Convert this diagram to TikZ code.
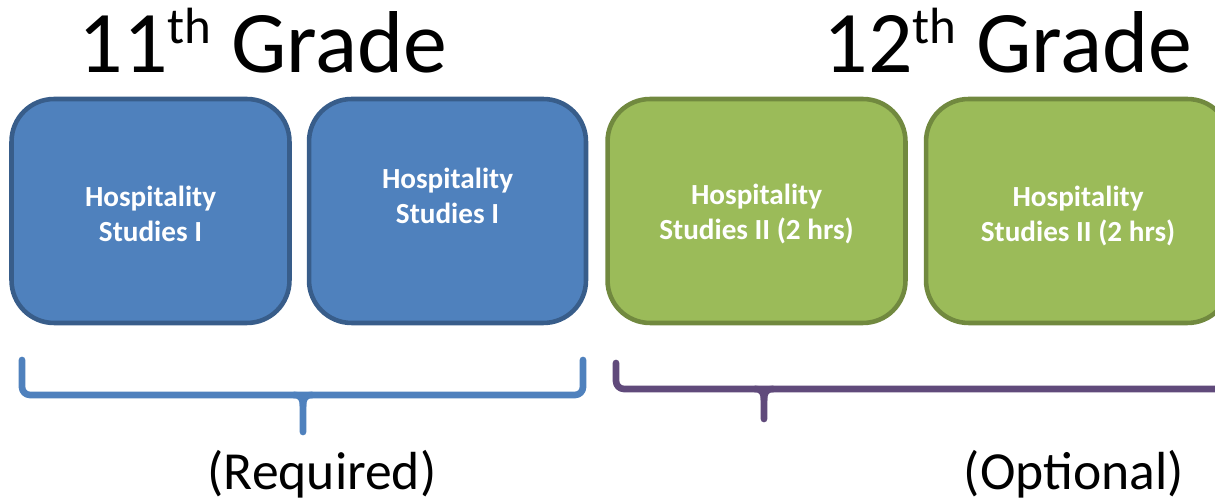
\documentclass[tikz,border=0pt]{standalone}
\usepackage{fontspec}
\setmainfont{Carlito}
\usetikzlibrary{positioning}
\definecolor{hsblue}{RGB}{79,129,189}
\definecolor{hsblueline}{RGB}{56,93,138}
\definecolor{hsgreen}{RGB}{155,187,89}
\definecolor{hsgreenline}{RGB}{113,137,63}
\definecolor{hspurple}{RGB}{96,74,123}
\newcommand{\gradesup}[1]{\raisebox{17pt}{\fontsize{29}{29}\selectfont #1}}
\tikzset{
    course/.style={
        rectangle, rounded corners=0.85cm, line width=2.6pt,
        minimum height=4.48cm
    },
    junior/.style={course, draw=hsblueline, fill=hsblue, minimum width=5.56cm},
    senior/.style={course, draw=hsgreenline, fill=hsgreen, minimum width=5.96cm},
    coursetext/.style={text=white, align=center, font=\fontsize{16.6}{20}\selectfont\bfseries},
    gradetitle/.style={inner sep=0pt, anchor=base, font=\fontsize{50}{60}\selectfont},
    gradelabel/.style={inner sep=0pt, anchor=base, font=\fontsize{30.5}{36}\selectfont},
    bracket/.style={line width=3.8pt, line cap=round, line join=round, rounded corners=0.16cm}
}

\begin{document}
\begin{tikzpicture}[x=0.02cm, y=-0.02cm]
\useasboundingbox (0,0) rectangle (1215,502);
\clip (0,0) rectangle (1215,502);

% Grade titles
\node[gradetitle] (title11) at (263,73) {11\gradesup{th} Grade};
\node[gradetitle] (title12) at (1008,73) {12\gradesup{th} Grade};

% Course boxes
\node[junior] (hs1) at (150.5,211) {};
\node[junior, minimum width=5.54cm, right=0.3cm of hs1] (hs2) {};
\node[senior, right=0.34cm of hs2] (hs3) {};
\node[senior, minimum width=6.08cm, right=0.32cm of hs3] (hs4) {};

\node[coursetext] (hs1text) at ([yshift=-0.06cm]hs1.center) {Hospitality\\Studies I};
\node[coursetext] (hs2text) at ([yshift=0.3cm]hs2.center) {Hospitality\\Studies I};
\node[coursetext] (hs3text) at ([yshift=-0.06cm]hs3.center) {Hospitality\\Studies II (2 hrs)};
\node[coursetext] (hs4text) at ([yshift=-0.1cm]hs4.center) {Hospitality\\Studies II (2 hrs)};

% Brackets
\draw[bracket, hsblue] (22,360) -- (22,395) -- (583,395) -- (583,360);
\draw[bracket, hsblue, rounded corners=0] (294,395) .. controls (301,395) and (303,399) .. (303,406) -- (303,432);
\draw[bracket, hsblue, rounded corners=0] (312,395) .. controls (305,395) and (303,399) .. (303,406);

\draw[bracket, hspurple] (616,363) -- (616,389) -- (1240,389);
\draw[bracket, hspurple, rounded corners=0] (755,389) .. controls (762,389) and (764,393) .. (764,400) -- (764,419);
\draw[bracket, hspurple, rounded corners=0] (773,389) .. controls (766,389) and (764,393) .. (764,400);

% Bracket labels
\node[gradelabel] (required) at (322,490) {(Required)};
\node[gradelabel] (optional) at (1074,490) {(Optional)};

\end{tikzpicture}
\end{document}
